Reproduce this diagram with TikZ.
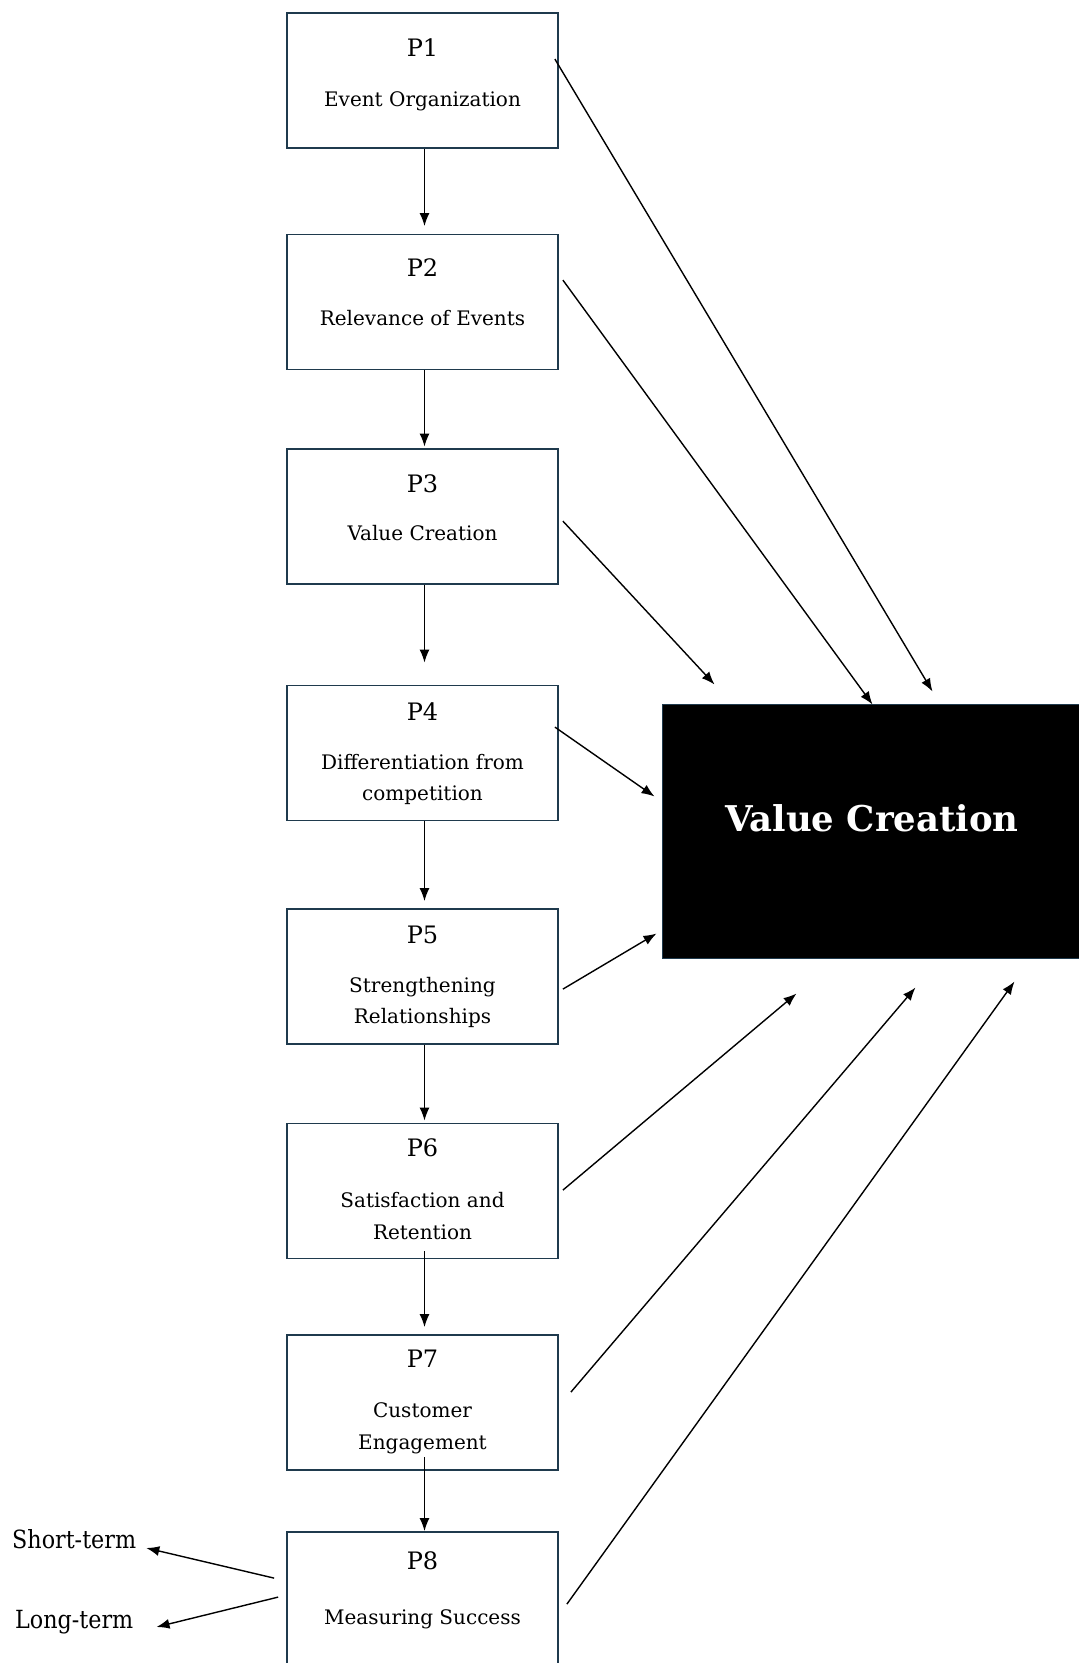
\documentclass[tikz,border=0pt]{standalone}
\usepackage{fontspec}
\setmainfont{DejaVu Serif}
\newfontfamily\sidefont[FakeStretch=0.89]{DejaVu Serif}
\usetikzlibrary{arrows.meta}
\definecolor{edgec}{HTML}{1F3A4D}
\begin{document}
\begin{tikzpicture}[x=1pt,y=-1pt,
  pbox/.style={draw=edgec,line width=1.8pt,minimum width=271pt,minimum height=135pt,inner sep=0pt},
  plabel/.style={font=\fontsize{24}{28}\selectfont,inner sep=0pt,anchor=base},
  pname/.style={font=\fontsize{20}{24}\selectfont,inner sep=0pt,anchor=base},
  side/.style={font=\sidefont\fontsize{25}{28}\selectfont,inner sep=0pt,anchor=base west},
  arr/.style={-{Latex[length=13pt,width=10pt]},line width=1.4pt,black},
]
\useasboundingbox (0,0) rectangle (1079,1663);

% boxes
\node[pbox] (p1) at (422.5,80.5) {};
\node[pbox] (p2) at (422.5,302) {};
\node[pbox] (p3) at (422.5,516.5) {};
\node[pbox] (p4) at (422.5,753) {};
\node[pbox] (p5) at (422.5,976.5) {};
\node[pbox] (p6) at (422.5,1191) {};
\node[pbox] (p7) at (422.5,1402.5) {};
\node[pbox] (p8) at (422.5,1599.5) {};

% big box
\node[draw=edgec,fill=black,line width=1pt,minimum width=428pt,minimum height=254pt,inner sep=0pt] (vc) at (876,831) {};
\node[font=\bfseries\fontsize{35.5}{40}\selectfont,text=white,inner sep=0pt,anchor=base] (vct) at ([shift={(-4,0)}]vc.center) {Value Creation};

% texts
\node[plabel] (p1l) at ([shift={(0,44)}]p1.north) {P1};
\node[pname] (p1n) at ([shift={(0,94)}]p1.north) {Event Organization};
\node[plabel] (p2l) at ([shift={(0,43)}]p2.north) {P2};
\node[pname] (p2n) at ([shift={(0,92)}]p2.north) {Relevance of Events};
\node[plabel] (p3l) at ([shift={(0,44)}]p3.north) {P3};
\node[pname] (p3n) at ([shift={(0,92)}]p3.north) {Value Creation};
\node[plabel] (p4l) at ([shift={(0,36)}]p4.north) {P4};
\node[pname] (p4a) at ([shift={(0,84.5)}]p4.north) {Differentiation from};
\node[pname] (p4b) at ([shift={(0,116)}]p4.north) {competition};
\node[plabel] (p5l) at ([shift={(0,35)}]p5.north) {P5};
\node[pname] (p5a) at ([shift={(0,84)}]p5.north) {Strengthening};
\node[pname] (p5b) at ([shift={(0,115.5)}]p5.north) {Relationships};
\node[plabel] (p6l) at ([shift={(0,34)}]p6.north) {P6};
\node[pname] (p6a) at ([shift={(0,85)}]p6.north) {Satisfaction and};
\node[pname] (p6b) at ([shift={(0,116.5)}]p6.north) {Retention};
\node[plabel] (p7l) at ([shift={(0,33)}]p7.north) {P7};
\node[pname] (p7a) at ([shift={(0,83)}]p7.north) {Customer};
\node[pname] (p7b) at ([shift={(0,115)}]p7.north) {Engagement};
\node[plabel] (p8l) at ([shift={(0,38)}]p8.north) {P8};
\node[pname] (p8n) at ([shift={(0,93)}]p8.north) {Measuring Success};

\node[side] (st) at (12,1548) {Short-term};
\node[side] (lt) at (15,1628) {Long-term};

% vertical arrows
\draw[arr] ([xshift=2pt]p1.south) -- ([shift={(2,-7.5)}]p2.north);
\draw[arr] ([xshift=2pt]p2.south) -- ([shift={(2,-1.5)}]p3.north);
\draw[arr] ([xshift=2pt]p3.south) -- ([shift={(2,-22)}]p4.north);
\draw[arr] ([xshift=2pt]p4.south) -- ([shift={(2,-7)}]p5.north);
\draw[arr] ([xshift=2pt]p5.south) -- ([shift={(2,-2)}]p6.north);
\draw[arr] ([shift={(2,-8)}]p6.south) -- ([shift={(2,-7)}]p7.north);
\draw[arr] ([shift={(2,-13.5)}]p7.south) -- ([shift={(2,0)}]p8.north);

% diagonal arrows
\draw[arr] ([shift={(-4,47)}]p1.north east) -- ([shift={(271,-12)}]vc.north west);
\draw[arr] ([shift={(4,46.5)}]p2.north east) -- ([shift={(211,1)}]vc.north west);
\draw[arr] ([shift={(4,73)}]p3.north east) -- ([shift={(53,-19)}]vc.north west);
\draw[arr] ([shift={(-4,42.5)}]p4.north east) -- ([shift={(-7,93)}]vc.north west);
\draw[arr] ([shift={(4,81)}]p5.north east) -- ([shift={(-5,230)}]vc.north west);
\draw[arr] ([shift={(4,67.5)}]p6.north east) -- ([shift={(135,35)}]vc.south west);
\draw[arr] ([shift={(12,58)}]p7.north east) -- ([shift={(254,29)}]vc.south west);
\draw[arr] ([shift={(8,73)}]p8.north east) -- ([shift={(353,23)}]vc.south west);

% side arrows
\draw[arr] ([shift={(-12,47)}]p8.north west) -- ([shift={(10,0)}]st.base east);
\draw[arr] ([shift={(-8,66)}]p8.north west) -- ([shift={(23,-1)}]lt.base east);
\end{tikzpicture}
\end{document}
